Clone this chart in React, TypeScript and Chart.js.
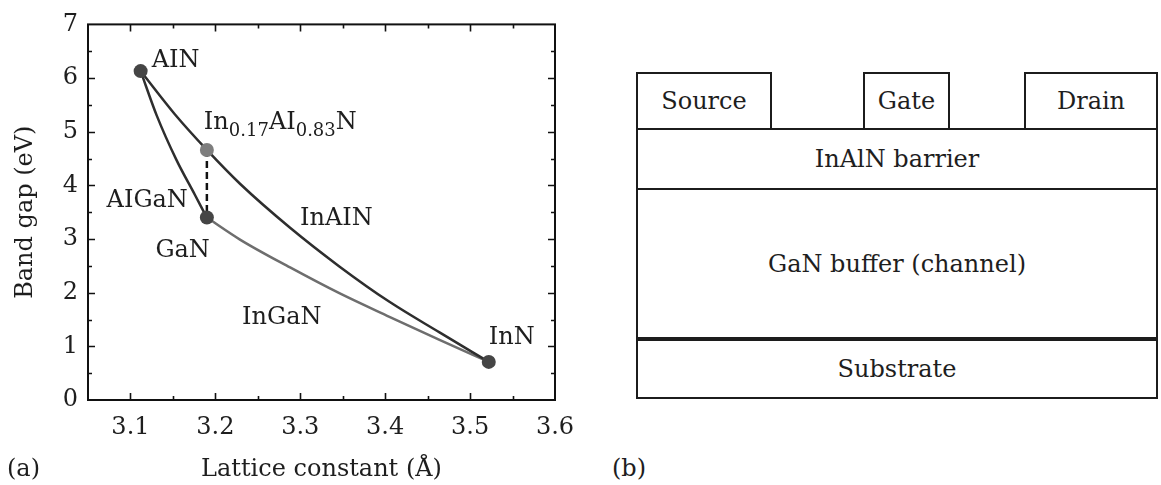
import React, { useEffect, useRef } from 'react';
import { Chart, registerables } from 'chart.js';

Chart.register(...registerables);

const FONT = '"DejaVu Serif", serif';

// Binary compounds (markers)
const compoundNames = ['AIN', 'GaN', 'InN', 'In0.17AI0.83N'];
const compoundLattice = [3.112, 3.19, 3.522, 3.19];
const compoundGap = [6.13, 3.40, 0.71, 4.66];
const compoundColors = ['#454545', '#454545', '#454545', '#7e7e7e'];

// Alloy curves
const curveNames = ['AIGaN', 'InAIN', 'InGaN'];
const alganLattice = [3.112, 3.131, 3.154, 3.176, 3.19];
const alganGap = [6.13, 5.30, 4.48, 3.82, 3.40];
const inalnLattice = [3.112, 3.152, 3.19, 3.229, 3.288, 3.346, 3.405, 3.464, 3.522];
const inalnGap = [6.13, 5.33, 4.66, 4.03, 3.21, 2.49, 1.83, 1.26, 0.71];
const inganLattice = [3.19, 3.229, 3.288, 3.346, 3.405, 3.464, 3.522];
const inganGap = [3.40, 2.99, 2.47, 1.99, 1.55, 1.12, 0.71];

// Axis ticks
const xTicks = [3.1, 3.2, 3.3, 3.4, 3.5, 3.6];
const xMinorTicks = [3.15, 3.25, 3.35, 3.45, 3.55];
const yTicks = [0, 1, 2, 3, 4, 5, 6, 7];
const yMinorTicks = [0.5, 1.5, 2.5, 3.5, 4.5, 5.5, 6.5];

// Device structure (b)
const contactNames = ['Source', 'Gate', 'Drain'];
const layerNames = ['InAlN barrier', 'GaN buffer (channel)', 'Substrate'];

const zip = (xs: number[], ys: number[]) => xs.map((v, i) => ({ x: v, y: ys[i] }));

const framePlugin = {
  id: 'frameTicks',
  afterDatasetsDraw(chart: any) {
    const { ctx, chartArea } = chart;
    const { left, right, top, bottom } = chartArea;
    const xs = chart.scales.x;
    const ys = chart.scales.y;
    ctx.save();
    ctx.strokeStyle = '#111';
    ctx.lineWidth = 2;
    ctx.strokeRect(left, top, right - left, bottom - top);
    ctx.lineWidth = 1.6;
    const drawX = (vals: number[], len: number) => {
      vals.forEach((v) => {
        const p = Math.round(xs.getPixelForValue(v)) + 0.5;
        ctx.beginPath();
        ctx.moveTo(p, bottom);
        ctx.lineTo(p, bottom - len);
        ctx.moveTo(p, top);
        ctx.lineTo(p, top + len);
        ctx.stroke();
      });
    };
    const drawY = (vals: number[], len: number) => {
      vals.forEach((v) => {
        const p = Math.round(ys.getPixelForValue(v)) + 0.5;
        ctx.beginPath();
        ctx.moveTo(left, p);
        ctx.lineTo(left + len, p);
        ctx.moveTo(right, p);
        ctx.lineTo(right - len, p);
        ctx.stroke();
      });
    };
    drawX(xTicks.slice(0, -1), 7);
    drawX(xMinorTicks, 4);
    drawY(yTicks.slice(1, -1), 7);
    drawY(yMinorTicks, 4);

    // annotations
    const px = (i: number) => xs.getPixelForValue(compoundLattice[i]);
    const py = (i: number) => ys.getPixelForValue(compoundGap[i]);
    ctx.fillStyle = '#1e1e1e';
    ctx.textBaseline = 'alphabetic';
    ctx.font = `24px ${FONT}`;
    ctx.textAlign = 'left';
    ctx.fillText(compoundNames[0], px(0) + 11, py(0) - 4);
    ctx.fillText(compoundNames[2], px(2), py(2) - 18);
    ctx.textAlign = 'right';
    ctx.fillText(compoundNames[1], px(1) + 3, py(1) + 39);
    ctx.fillText(curveNames[0], px(1) - 19, py(1) - 11);
    ctx.textAlign = 'left';
    const ax = xs.getPixelForValue(inalnLattice[4]);
    const ay = ys.getPixelForValue(inalnGap[4]);
    ctx.fillText(curveNames[1], ax + 10, ay - 3);
    const gx = xs.getPixelForValue(inganLattice[2]);
    const gy = ys.getPixelForValue(inganGap[2]);
    ctx.fillText(curveNames[2], gx - 48, gy + 57);

    // In0.17AI0.83N with subscripts
    const parts: [string, boolean][] = [
      ['In', false],
      ['0.17', true],
      ['AI', false],
      ['0.83', true],
      ['N', false],
    ];
    let cx = px(3) - 3;
    const by = py(3) - 21;
    parts.forEach(([t, sub]) => {
      ctx.font = sub ? `18px ${FONT}` : `24px ${FONT}`;
      ctx.fillText(t, cx, sub ? by + 7 : by);
      cx += ctx.measureText(t).width;
    });
    ctx.restore();
  },
};

function BandGapChart() {
  const ref = useRef<HTMLCanvasElement | null>(null);
  useEffect(() => {
    if (!ref.current) return;
    Chart.defaults.font.family = FONT;
    Chart.defaults.color = '#1e1e1e';
    const lineBase = {
      showLine: true,
      pointRadius: 0,
      fill: false,
      borderWidth: 2.5,
      cubicInterpolationMode: 'monotone' as const,
    };
    const chart = new Chart(ref.current, {
      type: 'scatter',
      data: {
        datasets: [
          {
            label: 'compounds',
            data: zip(compoundLattice, compoundGap),
            pointRadius: 7,
            pointBackgroundColor: compoundColors,
            pointBorderWidth: 0,
            showLine: false,
          },
          {
            label: 'link',
            data: [
              { x: compoundLattice[3], y: compoundGap[3] },
              { x: compoundLattice[1], y: compoundGap[1] },
            ],
            showLine: true,
            pointRadius: 0,
            borderColor: '#111',
            borderWidth: 2.5,
            borderDash: [7, 4],
          },
          { ...lineBase, label: curveNames[0], data: zip(alganLattice, alganGap), borderColor: '#2e2e2e' },
          { ...lineBase, label: curveNames[1], data: zip(inalnLattice, inalnGap), borderColor: '#2e2e2e' },
          { ...lineBase, label: curveNames[2], data: zip(inganLattice, inganGap), borderColor: '#6e6e6e' },
        ],
      },
      options: {
        animation: false,
        responsive: false,
        maintainAspectRatio: false,
        layout: { padding: { top: 18, right: 45, left: 0, bottom: 0 } },
        plugins: { legend: { display: false }, tooltip: { enabled: false } },
        scales: {
          x: {
            type: 'linear',
            min: 3.05,
            max: 3.6,
            grid: { display: false, drawTicks: false },
            border: { display: false },
            afterBuildTicks: (s: any) => {
              s.ticks = xTicks.map((v) => ({ value: v }));
            },
            afterFit: (s: any) => {
              s.height = 85;
            },
            ticks: {
              autoSkip: false,
              maxRotation: 0,
              padding: 13,
              color: '#1e1e1e',
              font: { size: 24, family: FONT },
              callback: (v: any) => Number(v).toFixed(1),
            },
            title: {
              display: true,
              text: 'Lattice constant (Å)',
              color: '#1e1e1e',
              font: { size: 24, family: FONT },
              padding: { top: 0, bottom: 1 },
            },
          },
          y: {
            type: 'linear',
            min: 0,
            max: 7,
            grid: { display: false, drawTicks: false },
            border: { display: false },
            afterBuildTicks: (s: any) => {
              s.ticks = yTicks.map((v) => ({ value: v }));
            },
            afterFit: (s: any) => {
              s.width = 88;
            },
            ticks: {
              autoSkip: false,
              padding: 10,
              color: '#1e1e1e',
              font: { size: 24, family: FONT },
              callback: (v: any) => String(v),
            },
            title: {
              display: true,
              text: 'Band gap (eV)',
              color: '#1e1e1e',
              font: { size: 24, family: FONT },
              padding: { top: 11, bottom: 0 },
            },
          },
        },
      },
      plugins: [framePlugin],
    });
    return () => chart.destroy();
  }, []);
  return (
    <canvas
      ref={ref}
      width={600}
      height={485}
      style={{ position: 'absolute', left: 0, top: 0, width: 600, height: 485 }}
    />
  );
}

const boxStyle = (left: number, top: number, width: number, height: number, extra: any = {}) => ({
  position: 'absolute' as const,
  left,
  top,
  width,
  height,
  boxSizing: 'border-box' as const,
  border: '2px solid #1c1c1c',
  display: 'flex',
  alignItems: 'center',
  justifyContent: 'center',
  fontSize: 24,
  lineHeight: '28px',
  color: '#1e1e1e',
  background: '#fff',
  ...extra,
});

export default function App() {
  return (
    <div
      style={{
        position: 'absolute',
        left: 0,
        top: 0,
        width: 1161,
        height: 485,
        background: '#fff',
        fontFamily: FONT,
        color: '#1e1e1e',
        overflow: 'hidden',
      }}
    >
      <BandGapChart />
      <div style={{ position: 'absolute', left: 7, top: 454, fontSize: 24, lineHeight: '28px' }}>(a)</div>
      <div style={{ position: 'absolute', left: 612, top: 454, fontSize: 24, lineHeight: '28px' }}>(b)</div>

      <div style={boxStyle(636, 128, 522, 62)}>{layerNames[0]}</div>
      <div style={boxStyle(636, 188, 522, 153, { borderBottom: '4px solid #1c1c1c' })}>{layerNames[1]}</div>
      <div style={boxStyle(636, 339, 522, 60)}>{layerNames[2]}</div>
      <div style={boxStyle(636, 72, 136, 58)}>{contactNames[0]}</div>
      <div style={boxStyle(863, 72, 87, 58)}>{contactNames[1]}</div>
      <div style={boxStyle(1024, 72, 134, 58)}>{contactNames[2]}</div>
    </div>
  );
}
